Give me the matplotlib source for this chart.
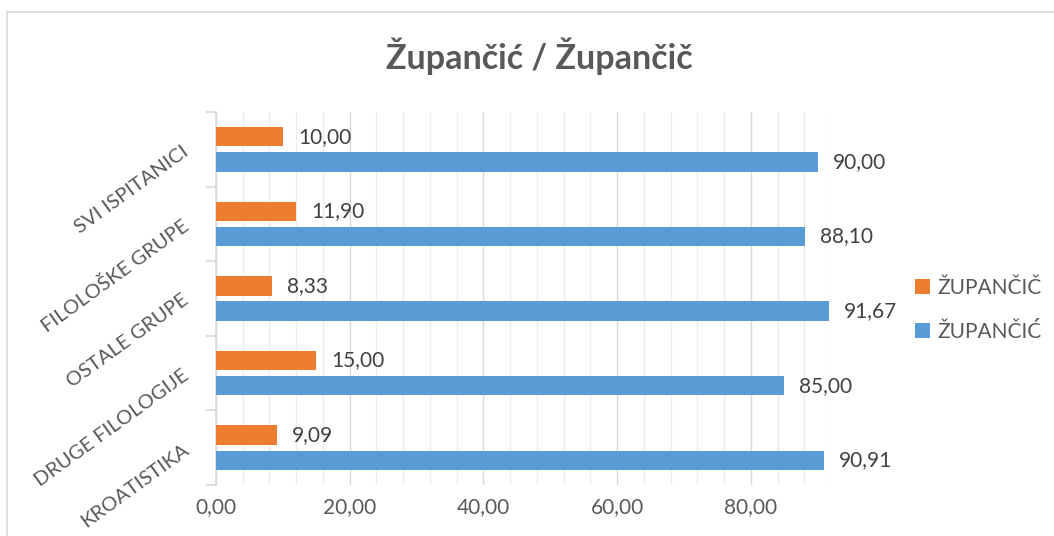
import matplotlib
matplotlib.use("Agg")
import matplotlib.pyplot as plt
from matplotlib.ticker import MultipleLocator, FuncFormatter
from matplotlib.patches import Rectangle
import numpy as np

plt.rcParams['font.family'] = ['Lato', 'DejaVu Sans']

title = "Župančić / Župančič"
categories = ["KROATISTIKA", "DRUGE FILOLOGIJE", "OSTALE GRUPE", "FILOLOŠKE GRUPE", "SVI ISPITANICI"]
series_names = ["ŽUPANČIČ", "ŽUPANČIĆ"]
orange_vals = [9.09, 15.00, 8.33, 11.90, 10.00]
blue_vals = [90.91, 85.00, 91.67, 88.10, 90.00]
xticks = [0, 20, 40, 60, 80]

ORANGE = "#ED7D31"
BLUE = "#5B9BD5"
TXT = "#595959"

W, H = 1054, 536
fig = plt.figure(figsize=(W / 100, H / 100), dpi=100)
fig.patch.set_facecolor("white")

# chart border (left/top visible)
fig.add_artist(Rectangle((7 / W, -0.1), 1.2, (H - 12) / H + 0.1, transform=fig.transFigure,
                         fill=False, edgecolor="#d9d9d9", linewidth=1.2))

left, right = 216 / W, 831 / W
top, bottom = 1 - 112 / H, 1 - 485 / H
ax = fig.add_axes([left, bottom, right - left, top - bottom])

y = np.arange(len(categories))
bh = 0.26
gap = 0.08
ax.barh(y + (bh + gap) / 2, orange_vals, height=bh, color=ORANGE, label=series_names[0], zorder=3)
ax.barh(y - (bh + gap) / 2, blue_vals, height=bh, color=BLUE, label=series_names[1], zorder=3)

fmt = lambda v: f"{v:.2f}".replace(".", ",")
for yi, v in zip(y, orange_vals):
    ax.annotate(fmt(v), (v, yi + (bh + gap) / 2), xytext=(11, 0), textcoords="offset points",
                va="center", ha="left", fontsize=15, color="#404040")
for yi, v in zip(y, blue_vals):
    ax.annotate(fmt(v), (v, yi - (bh + gap) / 2), xytext=(11, 0), textcoords="offset points",
                va="center", ha="left", fontsize=15, color="#404040")

ax.set_xlim(0, 92)
ax.set_ylim(-0.5, len(categories) - 0.5)
ax.xaxis.set_major_locator(MultipleLocator(20))
ax.xaxis.set_minor_locator(MultipleLocator(4))
ax.set_xticks(xticks)
ax.xaxis.set_major_formatter(FuncFormatter(lambda v, p: fmt(v)))
ax.grid(axis="x", which="major", color="#d9d9d9", linewidth=1.0, zorder=0)
ax.grid(axis="x", which="minor", color="#ececec", linewidth=1.0, zorder=0)
ax.tick_params(axis="x", which="both", length=0, pad=9, labelsize=15, labelcolor=TXT)

# y axis: ticks at category boundaries, labels at centers
ax.set_yticks(np.arange(-0.5, len(categories), 1.0))
ax.set_yticklabels([])
ax.set_yticks(y, minor=True)
ax.set_yticklabels(categories, minor=True, rotation=36, rotation_mode="anchor",
                   ha="right", va="center")
ax.tick_params(axis="y", which="major", length=7, color="#d9d9d9", width=1.2)
ax.tick_params(axis="y", which="minor", length=0, pad=21, labelsize=14.5, labelcolor=TXT)

for s in ["top", "right", "bottom"]:
    ax.spines[s].set_visible(False)
ax.spines["left"].set_color("#d9d9d9")
ax.spines["left"].set_linewidth(1.2)

fig.text(539 / W, 1 - 56 / H, title, ha="center", va="center", fontsize=24.5,
         fontweight="bold", color=TXT)

handles, labels = ax.get_legend_handles_labels()
leg = fig.legend(handles, labels, loc="center left", bbox_to_anchor=(896 / W, 1 - 310 / H),
                 frameon=False, fontsize=15, labelcolor=TXT, handlelength=0.75, handleheight=0.75,
                 handletextpad=0.35, labelspacing=1.15)

fig.savefig("out.png", dpi=100, facecolor="white")
